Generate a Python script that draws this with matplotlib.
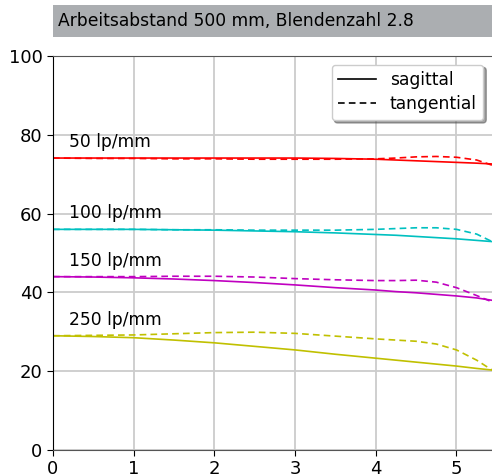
import numpy as np
import matplotlib
matplotlib.use("Agg")
import matplotlib.pyplot as plt
from matplotlib.patches import Rectangle

# image height in mm
x = [0.0, 0.5, 1.0, 1.5, 2.0, 2.5, 3.0, 3.5, 4.0, 4.25, 4.5, 4.75, 5.0, 5.25, 5.44]

s50 = [74.1, 74.1, 74.1, 74.1, 74.1, 74.1, 74.1, 74.0, 73.8, 73.6, 73.4, 73.2, 73.0, 72.8, 72.6]
t50 = [74.1, 74.0, 74.0, 73.9, 73.9, 73.8, 73.8, 73.8, 73.9, 74.1, 74.4, 74.5, 74.3, 73.6, 72.3]
s100 = [56.0, 56.0, 56.0, 55.9, 55.8, 55.6, 55.4, 55.1, 54.7, 54.5, 54.2, 53.9, 53.6, 53.2, 52.9]
t100 = [56.0, 56.0, 56.0, 55.9, 55.9, 55.8, 55.8, 55.8, 56.0, 56.2, 56.4, 56.4, 56.0, 54.8, 52.9]
s150 = [44.0, 43.9, 43.7, 43.4, 43.0, 42.5, 41.9, 41.2, 40.6, 40.2, 39.9, 39.5, 39.1, 38.6, 38.0]
t150 = [44.0, 44.0, 44.0, 44.1, 44.1, 43.9, 43.5, 43.2, 43.0, 43.0, 43.1, 42.6, 41.2, 39.2, 37.6]
s250 = [29.0, 28.8, 28.5, 27.9, 27.2, 26.3, 25.4, 24.3, 23.3, 22.8, 22.3, 21.8, 21.3, 20.7, 20.3]
t250 = [29.0, 29.1, 29.2, 29.5, 29.8, 29.9, 29.6, 28.9, 28.2, 27.9, 27.6, 26.9, 25.4, 22.8, 20.3]

labels = ["50 lp/mm", "100 lp/mm", "150 lp/mm", "250 lp/mm"]
label_y = [75.8, 57.8, 45.8, 30.8]
colors = ["#ff0000", "#00c0c0", "#c000c0", "#c0c000"]
sag = [s50, s100, s150, s250]
tan = [t50, t100, t150, t250]

fig = plt.figure(figsize=(4.92, 4.75), dpi=100)
ax = fig.add_axes([53/492, 25/475, 1 - 53/492, 394/475])

for c, s, t in zip(colors, sag, tan):
    ax.plot(x, s, color=c, lw=1.2, ls='-')
    ax.plot(x, t, color=c, lw=1.2, ls=(0, (4, 2.5)))

for lab, ly in zip(labels, label_y):
    ax.text(0.2, ly, lab, fontsize=12.3, va='bottom', ha='left')

ax.plot([], [], color='k', lw=1.2, ls='-', label='sagittal')
ax.plot([], [], color='k', lw=1.2, ls=(0, (4, 2.5)), label='tangential')
leg = ax.legend(loc='upper right', fontsize=12.3, fancybox=True, shadow=True,
                framealpha=1, handlelength=2.2, borderpad=0.4,
                labelspacing=0.35, bbox_to_anchor=(1.0, 1.0))

ax.set_xlim(0, 5.44)
ax.set_ylim(0, 100)
ax.set_xticks([0, 1, 2, 3, 4, 5])
ax.set_yticks([0, 20, 40, 60, 80, 100])
ax.tick_params(labelsize=13, length=4)
ax.grid(True, color='#cccccc', lw=1.3)
ax.set_axisbelow(True)
for sp in ['top', 'bottom']:
    ax.spines[sp].set_color('#555555')
ax.spines['right'].set_visible(False)
ax.spines['left'].set_color('k')

# title box
fig.patches.append(Rectangle((53/492, 1 - 37/475), 1 - 53/492, 32/475,
                             transform=fig.transFigure, facecolor='#abaeb1',
                             edgecolor='none'))
fig.text(58/492, 1 - 21/475, "Arbeitsabstand 500 mm, Blendenzahl 2.8",
         fontsize=12.3, va='center', ha='left')

fig.savefig("out.png", dpi=100)
